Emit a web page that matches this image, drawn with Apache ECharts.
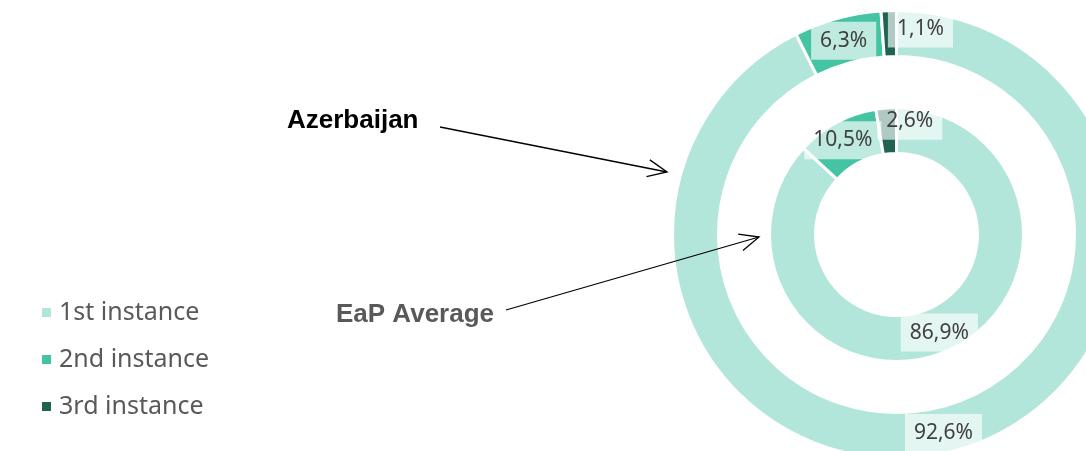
<!DOCTYPE html>
<html>
<head>
<meta charset="utf-8">
<script src="https://cdn.jsdelivr.net/npm/echarts@6/dist/echarts.min.js"></script>
<style>
  html, body { margin: 0; padding: 0; background: #ffffff; }
  #chart { width: 1086px; height: 451px; }
</style>
</head>
<body>
<div id="chart"></div>
<script>
// Share of cases by instance: Azerbaijan (outer ring) vs EaP average (inner ring)
const categories = ['1st instance', '2nd instance', '3rd instance'];
const azerbaijan = [92.6, 6.3, 1.1];
const eapAverage = [86.9, 10.5, 2.6];

const palette = ['#b3e6da', '#45c4a4', '#1e6451'];
// nudges for the labels of the thin slices near the top
const outerLabelShift = [[0, 0], [1, 3], [31, -2]];
const innerLabelShift = [[0, 0], [-3, 0], [22, -7]];

function ringData(values, shifts) {
  return categories.map((name, i) => ({
    name: name,
    value: values[i],
    itemStyle: { color: palette[i] },
    label: { offset: shifts[i] }
  }));
}

const labelStyle = {
  show: true,
  position: 'inside',
  formatter: p => p.value.toFixed(1).replace('.', ',') + '%',
  fontFamily: '"Noto Sans", sans-serif',
  fontSize: 21,
  lineHeight: 22,
  color: '#404040',
  backgroundColor: 'rgba(255,255,255,0.65)',
  padding: [8, 9]
};

const center = [896.5, 234.5];

function arrow(x1, y1, x2, y2) {
  const ang = Math.atan2(y2 - y1, x2 - x1);
  const len = 21, spread = 0.42;
  const a = [x2 - len * Math.cos(ang - spread), y2 - len * Math.sin(ang - spread)];
  const b = [x2 - len * Math.cos(ang + spread), y2 - len * Math.sin(ang + spread)];
  return [
    { type: 'polyline', z: 100, shape: { points: [[x1, y1], [x2, y2]] },
      style: { stroke: '#000', lineWidth: 1.3, fill: null } },
    { type: 'polyline', z: 100, shape: { points: [a, [x2, y2], b] },
      style: { stroke: '#000', lineWidth: 1.3, fill: null } }
  ];
}

const chart = echarts.init(document.getElementById('chart'), null, { renderer: 'canvas' });
chart.setOption({
  animation: false,
  color: palette,
  legend: {
    orient: 'vertical',
    left: 37,
    top: 295,
    icon: 'rect',
    itemWidth: 9,
    itemHeight: 9,
    itemGap: 22,
    data: categories,
    selectedMode: false,
    itemStyle: { borderWidth: 0 },
    textStyle: {
      fontFamily: '"Noto Sans", sans-serif',
      fontSize: 25,
      lineHeight: 24,
      color: '#595959',
      padding: [0, 0, 0, 3]
    }
  },
  series: [
    {
      name: 'Azerbaijan',
      type: 'pie',
      center: center,
      radius: [178, 224],
      startAngle: 90,
      clockwise: true,
      avoidLabelOverlap: false,
      labelLayout: { hideOverlap: false },
      label: labelStyle,
      labelLine: { show: false },
      itemStyle: { borderColor: '#ffffff', borderWidth: 3 },
      emphasis: { disabled: true },
      data: ringData(azerbaijan, outerLabelShift)
    },
    {
      name: 'EaP Average',
      type: 'pie',
      center: center,
      radius: [81, 127],
      startAngle: 90,
      clockwise: true,
      avoidLabelOverlap: false,
      labelLayout: { hideOverlap: false },
      label: labelStyle,
      labelLine: { show: false },
      itemStyle: { borderColor: '#ffffff', borderWidth: 3 },
      emphasis: { disabled: true },
      data: ringData(eapAverage, innerLabelShift)
    }
  ],
  graphic: [
    { type: 'text', x: 287, y: 121, z: 100,
      style: { text: 'Azerbaijan', font: 'bold 26px "Liberation Sans", Arial, sans-serif',
               fill: '#000000', verticalAlign: 'middle' } },
    { type: 'text', x: 336, y: 315, z: 100,
      style: { text: 'EaP Average', font: 'bold 26px "Liberation Sans", Arial, sans-serif',
               fill: '#595959', verticalAlign: 'middle' } },
    ...arrow(440, 127, 667, 172),
    ...arrow(506, 310, 759, 237)
  ]
});
</script>
</body>
</html>
